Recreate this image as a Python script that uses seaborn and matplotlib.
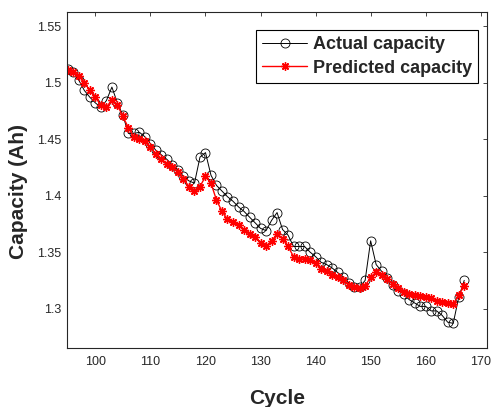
import pandas as pd
import matplotlib
matplotlib.use("Agg")
import matplotlib.pyplot as plt
import seaborn as sns

# cycle index and capacities
cycles = list(range(95, 168))

actual_capacity = [
    1.512, 1.509, 1.502, 1.493, 1.487, 1.482, 1.478, 1.484, 1.496, 1.482,  # 95-104
    1.471, 1.455, 1.455, 1.456, 1.452, 1.446, 1.440, 1.436, 1.432, 1.427,  # 105-114
    1.423, 1.417, 1.413, 1.411, 1.434, 1.438, 1.418, 1.409, 1.404, 1.399,  # 115-124
    1.395, 1.390, 1.386, 1.381, 1.376, 1.371, 1.369, 1.378, 1.385, 1.370,  # 125-134
    1.365, 1.355, 1.355, 1.355, 1.350, 1.346, 1.341, 1.339, 1.336, 1.332,  # 135-144
    1.328, 1.323, 1.319, 1.319, 1.325, 1.360, 1.339, 1.333, 1.327, 1.321,  # 145-154
    1.316, 1.313, 1.308, 1.305, 1.302, 1.302, 1.298, 1.298, 1.294, 1.288,  # 155-164
    1.287, 1.310, 1.325,                                                   # 165-167
]

predicted_capacity = [
    1.511, 1.509, 1.506, 1.500, 1.493, 1.487, 1.480, 1.478, 1.485, 1.480,  # 95-104
    1.470, 1.460, 1.452, 1.450, 1.448, 1.443, 1.437, 1.432, 1.428, 1.425,  # 105-114
    1.421, 1.415, 1.408, 1.404, 1.408, 1.417, 1.411, 1.396, 1.386, 1.379,  # 115-124
    1.377, 1.374, 1.370, 1.366, 1.363, 1.358, 1.355, 1.360, 1.366, 1.362,  # 125-134
    1.355, 1.346, 1.344, 1.344, 1.343, 1.340, 1.335, 1.333, 1.330, 1.328,  # 135-144
    1.325, 1.321, 1.319, 1.318, 1.320, 1.328, 1.332, 1.330, 1.326, 1.322,  # 145-154
    1.318, 1.315, 1.313, 1.312, 1.311, 1.310, 1.309, 1.307, 1.306, 1.305,  # 155-164
    1.304, 1.312, 1.320,                                                   # 165-167
]

df = pd.DataFrame({
    "Cycle": cycles,
    "Actual capacity": actual_capacity,
    "Predicted capacity": predicted_capacity,
})

sns.set_style("white")
plt.rcParams["font.family"] = ["Liberation Sans", "DejaVu Sans"]

fig = plt.figure(figsize=(4.91, 4.07), dpi=100)
ax = fig.add_axes([0.1365, 0.145, 0.8555, 0.8255])

sns.lineplot(data=df, x="Cycle", y="Actual capacity", ax=ax, color="black",
             linewidth=0.7, marker="o", markersize=6.5, markerfacecolor="none",
             markeredgecolor="black", markeredgewidth=0.6, label="Actual capacity")
# MATLAB style asterisk marker
sns.lineplot(data=df, x="Cycle", y="Predicted capacity", ax=ax, color="red",
             linewidth=1.0, marker=(8, 2, 0), markersize=6, markeredgecolor="red",
             markeredgewidth=1.0, label="Predicted capacity")

ax.set_xlim(94.85, 171.15)
ax.set_ylim(1.2652, 1.5624)
ax.set_xticks([100, 110, 120, 130, 140, 150, 160, 170])
ax.set_yticks([1.3, 1.35, 1.4, 1.45, 1.5, 1.55])
ax.set_yticklabels(["1.3", "1.35", "1.4", "1.45", "1.5", "1.55"])

ax.tick_params(direction="in", length=3, width=0.6, colors="#262626",
               labelsize=9, top=True, right=True, pad=4)
ax.tick_params(axis="x", pad=6)
for s in ax.spines.values():
    s.set_color("#262626")
    s.set_linewidth(0.8)

ax.set_xlabel("Cycle", fontsize=15, fontweight="bold", labelpad=15)
ax.set_ylabel("Capacity (Ah)", fontsize=15, fontweight="bold")
ax.yaxis.set_label_coords(-0.093, 0.467)

leg = ax.legend(loc="upper right", bbox_to_anchor=(0.979, 0.946), borderaxespad=0,
                fancybox=False, framealpha=1, edgecolor="black",
                prop={"weight": "bold", "size": 13}, handlelength=2.5,
                handletextpad=0.3, borderpad=0.35, labelspacing=0.35)
leg.get_frame().set_linewidth(0.8)

fig.savefig("out.png", dpi=100)
plt.close(fig)
